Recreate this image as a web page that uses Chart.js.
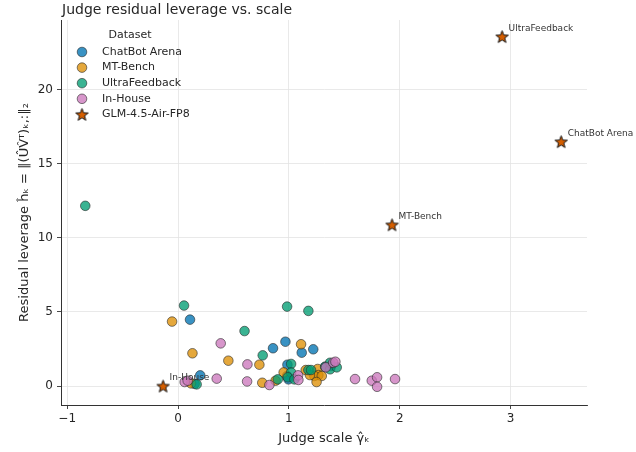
<!DOCTYPE html>
<html>
<head>
<meta charset="utf-8">
<script src="https://cdn.jsdelivr.net/npm/chart.js@4.4.1/dist/chart.umd.min.js"></script>
<style>
  html, body { margin: 0; padding: 0; background: #fff; }
  #wrap { width: 636px; height: 452px; }
</style>
</head>
<body>
<div id="wrap"><canvas id="chart" width="636" height="452"></canvas></div>
<script>
// data
const seriesNames = ['ChatBot Arena', 'MT-Bench', 'UltraFeedback', 'In-House'];

const chatbotX = [0.108, 0.857, 0.969, 1.116, 1.22, 0.20, 0.15, 0.987, 0.984, 0.996, 1.33, 1.38];
const chatbotY = [4.48, 2.55, 2.99, 2.25, 2.48, 0.72, 0.15, 1.44, 0.68, 0.45, 1.30, 1.35];

const mtbenchX = [-0.054, 0.13, 0.454, 0.734, 1.11, 0.117, 0.953, 0.88, 1.152, 1.26, 1.266, 1.23, 1.297, 1.25, 1.19, 0.76];
const mtbenchY = [4.35, 2.21, 1.71, 1.44, 2.82, 0.18, 0.92, 0.36, 1.08, 1.15, 0.74, 0.68, 0.68, 0.27, 0.74, 0.22];

const ultraX = [-0.837, 0.054, 0.60, 0.764, 0.984, 1.176, 0.168, 1.02, 1.02, 0.99, 0.90, 1.05, 1.176, 1.20, 1.327, 1.372, 1.432, 1.372];
const ultraY = [12.16, 5.43, 3.71, 2.07, 5.36, 5.07, 0.11, 1.49, 0.92, 0.59, 0.45, 0.45, 1.08, 1.08, 1.30, 1.13, 1.26, 1.57];

const houseX = [0.385, 0.626, 1.597, 1.748, 1.796, 1.796, 1.958, 0.06, 0.087, 0.349, 0.623, 0.824, 1.083, 1.086, 1.333, 1.40, 1.42];
const houseY = [2.88, 1.46, 0.47, 0.36, 0.59, -0.05, 0.47, 0.27, 0.36, 0.50, 0.31, 0.07, 0.72, 0.41, 1.26, 1.57, 1.64];

const glmName = 'GLM-4.5-Air-FP8';
const glmLabels = ['UltraFeedback', 'ChatBot Arena', 'MT-Bench', 'In-House'];
const glmX = [2.924, 3.457, 1.931, -0.135];
const glmY = [23.58, 16.49, 10.88, 0.0];

const xTicks = [-1, 0, 1, 2, 3];
const yTicks = [0, 5, 10, 15, 20];

const palette = ['#0173b2', '#de8f05', '#029e73', '#cc78bc'];
const starColor = '#d55e00';

function toPoints(xs, ys) {
  return xs.map((x, i) => ({ x: x, y: ys[i] }));
}

function hexA(hex, a) {
  const n = parseInt(hex.slice(1), 16);
  return `rgba(${(n >> 16) & 255},${(n >> 8) & 255},${n & 255},${a})`;
}

// filled star marker (Chart.js 'star' is only a line cross)
function makeStar(r) {
  const c = document.createElement('canvas');
  const s = Math.ceil(r * 2 + 4);
  c.width = s; c.height = s;
  const g = c.getContext('2d');
  g.beginPath();
  for (let i = 0; i < 10; i++) {
    const rad = i % 2 === 0 ? r : r * 0.42;
    const a = -Math.PI / 2 + i * Math.PI / 5;
    const px = s / 2 + rad * Math.cos(a);
    const py = s / 2 + 0.6 + rad * Math.sin(a);
    if (i === 0) g.moveTo(px, py); else g.lineTo(px, py);
  }
  g.closePath();
  g.fillStyle = starColor;
  g.fill();
  g.lineWidth = 1;
  g.strokeStyle = '#111';
  g.stroke();
  return c;
}
const starImg = makeStar(6.5);

const allX = [chatbotX, mtbenchX, ultraX, houseX];
const allY = [chatbotY, mtbenchY, ultraY, houseY];

const datasets = seriesNames.map((name, i) => ({
  label: name,
  data: toPoints(allX[i], allY[i]),
  backgroundColor: hexA(palette[i], 0.78),
  borderColor: 'rgba(40,40,40,0.75)',
  borderWidth: 0.8,
  pointRadius: 4.8,
  pointHoverRadius: 4.8,
  order: 5 - i
}));
datasets.push({
  label: glmName,
  data: toPoints(glmX, glmY),
  pointStyle: starImg,
  pointRadius: 7,
  order: 0
});

const textColor = '#262626';
const font = 'DejaVu Sans';

// title, legend inside the plot, star annotations
const decorPlugin = {
  id: 'decor',
  afterDatasetsDraw(chart) {
    const ctx = chart.ctx;
    const area = chart.chartArea;
    ctx.save();

    // star annotations
    const meta = chart.getDatasetMeta(datasets.length - 1);
    ctx.font = `9px "${font}"`;
    ctx.textAlign = 'left';
    ctx.textBaseline = 'middle';
    meta.data.forEach((pt, i) => {
      ctx.fillStyle = '#333';
      ctx.fillText(glmLabels[i], pt.x + 6.5, pt.y - 8);
    });

    // title
    ctx.fillStyle = textColor;
    ctx.font = `14px "${font}"`;
    ctx.textBaseline = 'middle';
    ctx.fillText('Judge residual leverage vs. scale', area.left + 1, 10);

    // legend
    const lx = area.left + 21;
    const ty = area.top + 15;
    ctx.font = `11px "${font}"`;
    ctx.textAlign = 'center';
    ctx.fillText('Dataset', lx + 48, ty);
    ctx.textAlign = 'left';
    const rows = seriesNames.concat([glmName]);
    rows.forEach((name, i) => {
      const y = ty + 17 + i * 15.6;
      if (i < seriesNames.length) {
        ctx.beginPath();
        ctx.arc(lx, y, 4.8, 0, Math.PI * 2);
        ctx.fillStyle = hexA(palette[i], 0.78);
        ctx.fill();
        ctx.lineWidth = 0.8;
        ctx.strokeStyle = 'rgba(40,40,40,0.75)';
        ctx.stroke();
      } else {
        ctx.drawImage(starImg, lx - starImg.width / 2, y - starImg.height / 2);
      }
      ctx.fillStyle = textColor;
      ctx.fillText(name, lx + 20, y);
    });
    ctx.restore();
  }
};

new Chart(document.getElementById('chart'), {
  type: 'scatter',
  data: { datasets: datasets },
  options: {
    responsive: false,
    animation: false,
    layout: { padding: { left: 0, right: 49, top: 20, bottom: 0 } },
    plugins: {
      legend: { display: false },
      tooltip: { enabled: false },
      title: { display: false }
    },
    scales: {
      x: {
        type: 'linear',
        min: -1.056,
        max: 3.69,
        afterBuildTicks: s => { s.ticks = xTicks.map(v => ({ value: v })); },
        afterFit: s => { s.height = 47; },
        grid: { color: '#e3e3e3', lineWidth: 0.8, tickLength: 4, tickColor: '#333', tickWidth: 0.9 },
        border: { display: true, color: '#333', width: 1 },
        ticks: {
          color: textColor,
          font: { family: font, size: 12 },
          padding: 3,
          callback: v => String(v).replace('-', '\u2212')
        },
        title: {
          display: true,
          text: 'Judge scale \u03B3\u0302\u2096',
          color: textColor,
          font: { family: font, size: 13 },
          padding: { top: 0, bottom: 6 }
        }
      },
      y: {
        type: 'linear',
        min: -1.28,
        max: 24.7,
        afterBuildTicks: s => { s.ticks = yTicks.map(v => ({ value: v })); },
        afterFit: s => { s.width = 61; },
        grid: { color: '#e3e3e3', lineWidth: 0.8, tickLength: 4, tickColor: '#333', tickWidth: 0.9 },
        border: { display: true, color: '#333', width: 1 },
        ticks: {
          color: textColor,
          font: { family: font, size: 12 },
          padding: 4
        },
        title: {
          display: true,
          text: 'Residual leverage \u0125\u2096 = \u2016(\u00DBV\u0302\u1D40)\u2096,:\u2016\u2082',
          color: textColor,
          font: { family: font, size: 13 },
          padding: { top: 17, bottom: 0 }
        }
      }
    }
  },
  plugins: [decorPlugin]
});
</script>
</body>
</html>
